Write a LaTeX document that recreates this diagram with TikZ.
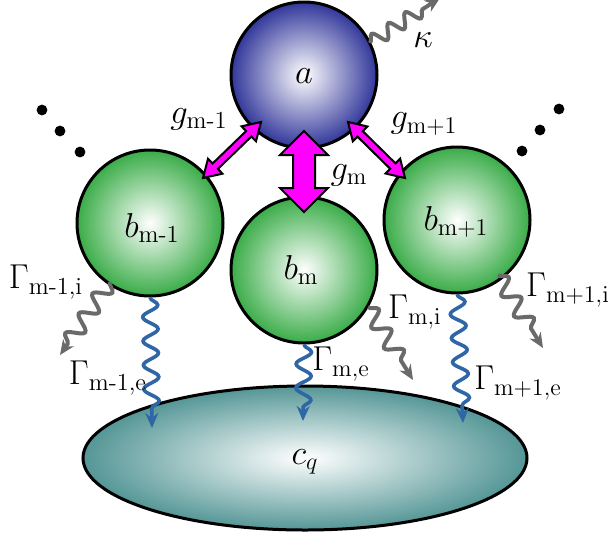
\documentclass[tikz,border=0pt]{standalone}
\usepackage{amsmath}
\usetikzlibrary{calc,decorations.pathmorphing,arrows.meta,shapes.geometric}
\definecolor{ballblue}{HTML}{32379A}
\definecolor{ballgreen}{HTML}{3AAC48}
\definecolor{ballteal}{HTML}{559696}
\definecolor{wavegray}{HTML}{6A6A6A}
\definecolor{waveblue}{HTML}{2E66A6}
\definecolor{magfill}{RGB}{255,0,255}
\newcommand{\dblarr}[5]{%
  \filldraw[magarrow] (#1)
    -- ($(#1)!#5!(#2)!#4!90:(#2)$)
    -- ($(#1)!#5!(#2)!#3!90:(#2)$)
    -- ($(#2)!#5!(#1)!#3!-90:(#1)$)
    -- ($(#2)!#5!(#1)!#4!-90:(#1)$)
    -- (#2)
    -- ($(#2)!#5!(#1)!#4!90:(#1)$)
    -- ($(#2)!#5!(#1)!#3!90:(#1)$)
    -- ($(#1)!#5!(#2)!#3!-90:(#2)$)
    -- ($(#1)!#5!(#2)!#4!-90:(#2)$)
    -- cycle;}
\begin{document}
\begin{tikzpicture}[x=0.5pt,y=-0.5pt,
  font=\fontsize{17.5}{20}\selectfont,
  ball/.style={circle, draw=black, line width=1.5pt, minimum size=73pt, inner sep=0pt, shading=radial, inner color=white},
  blueball/.style={ball, outer color=ballblue},
  greenball/.style={ball, outer color=ballgreen},
  magarrow/.style={fill=magfill, draw=black, line width=1pt, line join=miter},
  wavy/.style={line width=1.8pt, decorate, decoration={snake, amplitude=3.8pt, segment length=12pt, post length=6pt}, -{Stealth[length=7.5pt,width=6.5pt]}},
  wavyg/.style={wavy, line width=2pt, draw=wavegray, color=wavegray, decoration={snake, amplitude=4pt, segment length=12pt, post length=6pt}},
  wavyk/.style={wavy, line width=2pt, draw=wavegray, color=wavegray, decoration={snake, amplitude=3.4pt, segment length=10pt, post length=6pt}},
  wavyb/.style={wavy, draw=waveblue, color=waveblue},
  dot/.style={fill=black},
  lbl/.style={inner sep=1pt}]
\useasboundingbox (0,0) rectangle (610,542);
\clip (0,0) rectangle (610,542);

% reservoir
\node[ellipse, draw=black, line width=1.5pt, minimum width=222pt, minimum height=72pt, inner sep=0pt, shading=radial, inner color=white, outer color=ballteal] (c) at (305,458) {};
\node[lbl] (cl) at (305,462) {$c_q$};

% modes
\node[blueball] (a) at (304,75) {};
\node[lbl] (al) at (304,76) {$a$};
\node[greenball] (b1) at (150,223) {};
\node[lbl] (b1l) at (152,228) {$b_{\text{m-1}}$};
\node[greenball] (b2) at (304,270) {};
\node[lbl] (b2l) at (301,270) {$b_{\mathrm{m}}$};
\node[greenball] (b3) at (457,220) {};
\node[lbl] (b3l) at (456,222) {$b_{\mathrm{m+1}}$};

% dots
\foreach \p/\n in {{(42,110)}/d1,{(60,131)}/d2,{(80,152)}/d3,{(559,109)}/d4,{(540,130)}/d5,{(522,151)}/d6}
  \fill[dot] \p circle (2.7pt) coordinate (\n);

% coupling arrows
\coordinate (ta1) at (261,122);
\coordinate (tb1) at (203,178);
\coordinate (ta3) at (348,122);
\coordinate (tb3) at (405,178);
\coordinate (ta2) at (304,131);
\coordinate (tb2) at (304,212);
\dblarr{ta1}{tb1}{1.9pt}{5.2pt}{8.5pt}
\dblarr{ta3}{tb3}{1.9pt}{5.2pt}{8.5pt}
\dblarr{ta2}{tb2}{5.5pt}{12pt}{12pt}
\node[lbl] (g1) at (199,119) {$g_{\text{m-1}}$};
\node[lbl] (g3) at (424,124) {$g_{\mathrm{m+1}}$};
\node[lbl] (g2) at (349,175) {$g_{\mathrm{m}}$};

% loss channels
\coordinate (ka) at (370,43);
\coordinate (kt) at (440,-2);
\draw[wavyk] (ka) -- (kt);
\node[lbl] (kl) at (423,40) {$\kappa$};

\coordinate (s1i) at (110,282);
\coordinate (e1i) at (60,355);
\draw[wavyg] (s1i) -- (e1i);
\coordinate (s2i) at (368,307);
\coordinate (e2i) at (413,380);
\draw[wavyg] (s2i) -- (e2i);
\coordinate (s3i) at (498,275);
\coordinate (e3i) at (543,348);
\draw[wavyg] (s3i) -- (e3i);

\coordinate (e1e) at (152,428);
\coordinate (e2e) at (303,421);
\coordinate (e3e) at (463,423);
\draw[wavyb] (b1.south) -- (e1e);
\draw[wavyb] (b2.south) -- (e2e);
\draw[wavyb] (b3.south) -- (e3e);

\node[lbl] (G1i) at (46,282) {$\Gamma_{\text{m-1,i}}$};
\node[lbl] (G1e) at (108,378) {$\Gamma_{\text{m-1,e}}$};
\node[lbl] (G2i) at (415,312) {$\Gamma_{\mathrm{m,i}}$};
\node[lbl] (G2e) at (341,364) {$\Gamma_{\mathrm{m,e}}$};
\node[lbl] (G3i) at (568,290) {$\Gamma_{\mathrm{m+1,i}}$};
\node[lbl] (G3e) at (518,383) {$\Gamma_{\mathrm{m+1,e}}$};
\end{tikzpicture}
\end{document}
